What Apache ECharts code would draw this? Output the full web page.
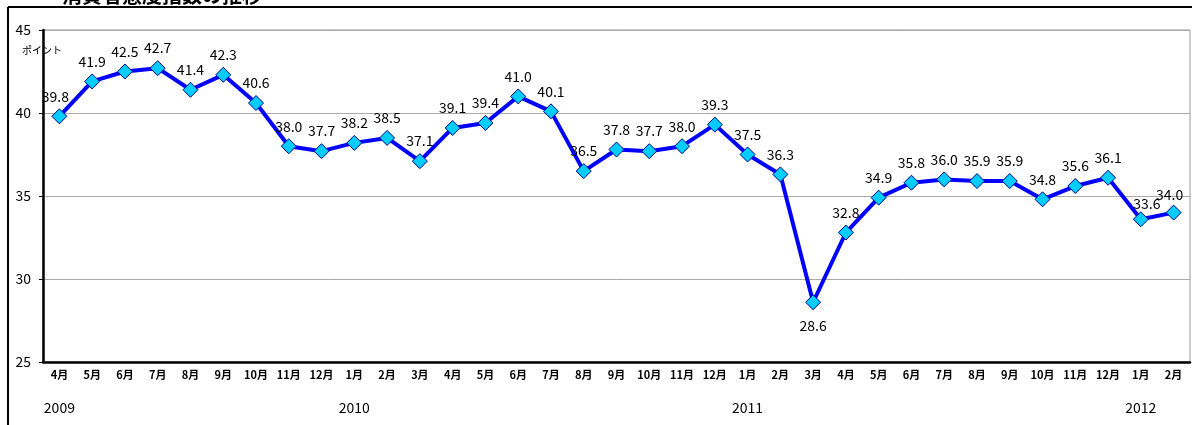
<!DOCTYPE html>
<html><head><meta charset="utf-8">
<script src="https://cdn.jsdelivr.net/npm/echarts@6/dist/echarts.min.js"></script>
<style>html,body{margin:0;padding:0;background:#fff}#c{width:1192px;height:425px}</style>
</head><body><div id="c"></div>
<script>
const months = ['4月','5月','6月','7月','8月','9月','10月','11月','12月',
  '1月','2月','3月','4月','5月','6月','7月','8月','9月','10月','11月','12月',
  '1月','2月','3月','4月','5月','6月','7月','8月','9月','10月','11月','12月',
  '1月','2月'];
const years = ['2009','','','','','','','','',
  '2010','','','','','','','','','','','',
  '2011','','','','','','','','','','','',
  '2012',''];
const values = [39.8,41.9,42.5,42.7,41.4,42.3,40.6,38.0,37.7,
  38.2,38.5,37.1,39.1,39.4,41.0,40.1,36.5,37.8,37.7,38.0,39.3,
  37.5,36.3,28.6,32.8,34.9,35.8,36.0,35.9,35.9,34.8,35.6,36.1,
  33.6,34.0];
const yTicks = [25,30,35,40,45];
const title = '消費者態度指数の推移';
const unit = 'ポイント';

const F = '"Noto Sans CJK JP", "Noto Sans", sans-serif';
const data = values.map((v,i)=>{
  const d = {value:v};
  if (i === 23) d.label = {position:'bottom', distance:8};
  if (i === values.length-1) d.label = {offset:[-4,2]};
  if (i === values.length-2) d.label = {offset:[6,4]};
  if (i === 0) d.label = {offset:[-4,0]};
  return d;
});

const chart = echarts.init(document.getElementById('c'));
chart.setOption({
  animation:false,
  grid:{left:43,right:2,top:30,bottom:63,show:true,borderColor:'#999',borderWidth:1},
  graphic:[
    {type:'line',shape:{x1:8,y1:7,x2:1192,y2:7},style:{stroke:'#000',lineWidth:2}},
    {type:'line',shape:{x1:8,y1:7,x2:8,y2:425},style:{stroke:'#000',lineWidth:2}},
    {type:'text',left:62,top:-15,style:{text:title,font:'bold 20px '+F,fill:'#000'}},
    {type:'text',left:22,top:45,style:{text:unit,font:'10px '+F,fill:'#000'}}
  ],
  xAxis:[{
    type:'category',data:months,boundaryGap:true,
    axisLine:{lineStyle:{color:'#000',width:2.5}},
    axisTick:{inside:true,length:4,lineStyle:{color:'#000',width:1.5}},
    axisLabel:{fontFamily:F,fontSize:11,fontWeight:'bold',color:'#000',margin:7,interval:0}
  },{
    type:'category',data:years,position:'bottom',offset:39,boundaryGap:true,
    axisLine:{show:false},axisTick:{show:false},
    axisLabel:{fontFamily:F,fontSize:14,color:'#000',interval:0,margin:0}
  }],
  yAxis:{
    type:'value',min:25,max:45,interval:5,
    axisLine:{show:true,lineStyle:{color:'#000',width:2.5}},
    axisTick:{show:true,length:4,lineStyle:{color:'#000'}},
    splitLine:{lineStyle:{color:'#aaa',width:1}},
    axisLabel:{fontFamily:F,fontSize:14,color:'#000',margin:12,
      formatter:v=>yTicks.includes(v)?String(v):''}
  },
  series:[{
    type:'line',data:data,xAxisIndex:0,
    lineStyle:{color:'#0000ff',width:4},
    symbol:'diamond',symbolSize:15,
    itemStyle:{color:'#00ccff',borderColor:'#000080',borderWidth:1},
    label:{show:true,position:'top',distance:5,fontFamily:F,fontSize:14,color:'#000',
      formatter:p=>p.value.toFixed(1)},
    z:3
  }]
});
</script></body></html>
